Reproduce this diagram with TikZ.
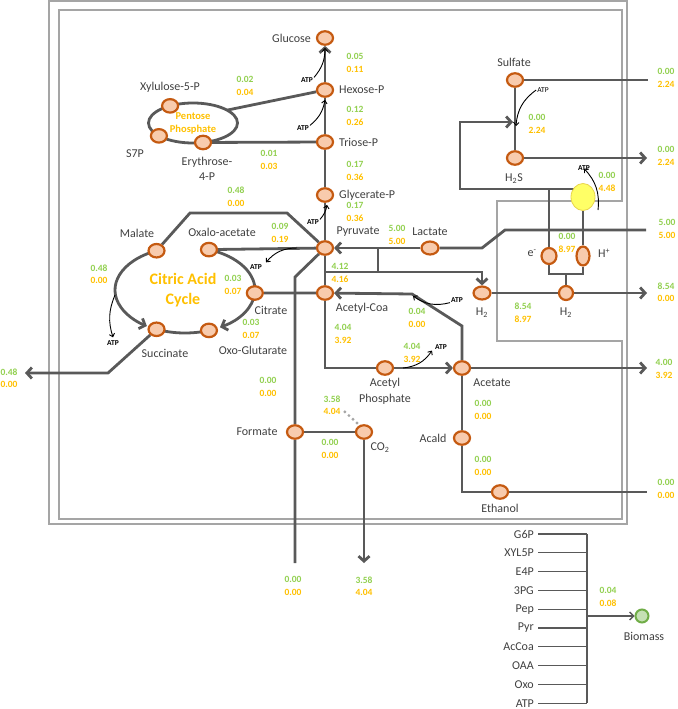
\documentclass[tikz,border=0pt]{standalone}
\usepackage{fontspec}
\setmainfont{Carlito}
\usepackage{xcolor}
\usepackage{tikz}
\usetikzlibrary{shapes.geometric, arrows.meta, positioning, calc, backgrounds}

\definecolor{flowgray}{HTML}{595959}
\definecolor{wallgray}{HTML}{A5A5A5}
\definecolor{metfill}{HTML}{F8CBAD}
\definecolor{metedge}{HTML}{C55A11}
\definecolor{fgreen}{HTML}{92D050}
\definecolor{forange}{HTML}{FFC000}
\definecolor{txtgray}{HTML}{404040}
\definecolor{hydfill}{HTML}{FFFF66}
\definecolor{hydedge}{HTML}{E8D44D}
\definecolor{biofill}{HTML}{C5E0B4}
\definecolor{bioedge}{HTML}{70AD47}
\definecolor{dotgray}{HTML}{A6A6A6}

\newcommand{\fx}[2]{\textcolor{fgreen}{#1}\\\textcolor{forange}{#2}}

\begin{document}
\begin{tikzpicture}[
  x=1pt, y=-1pt,
  met/.style = {ellipse, draw=metedge, fill=metfill, line width=2.2pt,
                minimum width=16pt, minimum height=13.5pt, inner sep=0pt},
  lbl/.style = {font=\fontsize{12}{14.5}\selectfont, text=txtgray, align=center, inner sep=0pt},
  num/.style = {font=\fontsize{9.5}{12.5}\selectfont\bfseries, align=center, inner sep=0pt},
  atp/.style = {font=\fontsize{7.5}{8}\selectfont\bfseries, inner sep=0pt},
  flow/.style = {draw=flowgray, line width=2.8pt},
  tip/.style = {-{Straight Barb[length=5pt,width=11pt]}},
  curl/.style = {draw=black, line width=0.9pt, -{Straight Barb[length=3pt,width=5.5pt]}},
  wall/.style = {draw=wallgray, line width=1.5pt},
  feed/.style = {draw=flowgray, line width=1.3pt}
]
  \useasboundingbox (0,0) rectangle (677,709);

  \coordinate (tca) at (185,290);
  \coordinate (ppc) at (193,123);

  \node[met] (glc)   at (325,38)  {};
  \node[met] (hexp)  at (325,90)  {};
  \node[met] (triop) at (325,142) {};
  \node[met] (glyp)  at (325,195) {};
  \node[met] (pyr)   at (325,248) {};
  \node[met] (accoa) at (325,293) {};
  \node[met] (xyl)   at ($(ppc)+(239:44.5 and 20)$) {};
  \node[met] (s7p)   at ($(ppc)+(140:44.5 and 20)$) {};
  \node[met] (e4p)   at ($(ppc)+(77:44.5 and 20)$)  {};
  \node[met] (mal)   at ($(tca)+(246:70 and 43)$) {};
  \node[met] (oaa)   at ($(tca)+(-70:70 and 43)$) {};
  \node[met] (cit)   at ($(tca)+(4:70 and 43)$)   {};
  \node[met] (oxo)   at ($(tca)+(70:70 and 43)$)  {};
  \node[met] (suc)   at ($(tca)+(114:70 and 43)$) {};
  \node[met, minimum width=17pt, minimum height=13pt] (lac) at (430,248) {};
  \node[met] (frm)   at (295,432) {};
  \node[met] (co2)   at (364,432) {};
  \node[met] (acp)   at (385,368) {};
  \node[met] (ace)   at (462,368) {};
  \node[met] (acald) at (462,438) {};
  \node[met] (etoh)  at (500,492) {};
  \node[met] (sulf)  at (515,80)  {};
  \node[met] (h2s)   at (515,158) {};
  \node[met, minimum width=17pt, minimum height=13pt] (h2a) at (482,293) {};
  \node[met, minimum width=14pt, minimum height=14pt] (h2b) at (566,293) {};
  \node[met, minimum width=15pt, minimum height=16pt] (em) at (549,256) {};
  \node[met, minimum width=13pt, minimum height=19pt] (hp) at (583,256) {};
  \node[ellipse, draw=hydedge, fill=hydfill, line width=0.8pt,
        minimum width=24pt, minimum height=27pt, inner sep=0pt] (hyd) at (583,197) {};
  \node[circle, draw=bioedge, fill=biofill, line width=2pt,
        minimum size=13pt, inner sep=0pt] (bio) at (642,616) {};

  \node[lbl, anchor=east] (glcT) at (311,38) {Glucose};
  \node[lbl, anchor=west] (hexpT) at (339,90) {Hexose-P};
  \node[lbl, anchor=west] (triopT) at (339,142) {Triose-P};
  \node[lbl, anchor=west] (glypT) at (339,195) {Glycerate-P};
  \node[lbl] (pyrT) at (358,232) {Pyruvate};
  \node[lbl] (accoaT) at (362,308) {Acetyl-Coa};
  \node[lbl] (xylT) at (170,87) {Xylulose-5-P};
  \node[lbl] (s7pT) at (135,154) {S7P};
  \node[lbl] (e4pT) at (207,169) {Erythrose-\\4-P};
  \node[font=\fontsize{10.5}{13}\selectfont\bfseries, text=forange, align=center] (ppT) at (ppc) {Pentose\\Phosphate};
  \node[lbl] (malT) at (137,233) {Malate};
  \node[lbl] (oaaT) at (222,232) {Oxalo-acetate};
  \node[lbl] (citT) at (271,310) {Citrate};
  \node[lbl] (sucT) at (165,353) {Succinate};
  \node[lbl] (oxoT) at (253,350) {Oxo-Glutarate};
  \node[font=\fontsize{16}{20}\selectfont\bfseries, text=forange, align=center] (tcaT) at (183,290) {Citric Acid\\Cycle};
  \node[lbl] (lacT) at (430,232) {Lactate};
  \node[lbl] (frmT) at (257,432) {Formate};
  \node[lbl] (co2T) at (380,448) {CO\textsubscript{2}};
  \node[lbl, font=\fontsize{12}{16}\selectfont] (acpT) at (385,391) {Acetyl\\Phosphate};
  \node[lbl] (aceT) at (492,383) {Acetate};
  \node[lbl] (acaldT) at (433,438) {Acald};
  \node[lbl] (etohT) at (500,508) {Ethanol};
  \node[lbl] (sulfT) at (514,62) {Sulfate};
  \node[lbl] (h2sT) at (514,179) {H\textsubscript{2}S};
  \node[lbl] (h2aT) at (482,313) {H\textsubscript{2}};
  \node[lbl] (h2bT) at (566,313) {H\textsubscript{2}};
  \node[lbl] (emT) at (532,253) {e\textsuperscript{-}};
  \node[lbl] (hpT) at (604,253) {H\textsuperscript{+}};
  \node[lbl] (bioT) at (644,636) {Biomass};

  \node[num] (f1)  at (245,86)  {\fx{0.02}{0.04}};
  \node[num] (f2)  at (355,63)  {\fx{0.05}{0.11}};
  \node[num] (f3)  at (355,116) {\fx{0.12}{0.26}};
  \node[num] (f4)  at (269,160) {\fx{0.01}{0.03}};
  \node[num] (f5)  at (355,171) {\fx{0.17}{0.36}};
  \node[num] (f6)  at (236,197) {\fx{0.48}{0.00}};
  \node[num] (f7)  at (355,212) {\fx{0.17}{0.36}};
  \node[num] (f8)  at (280,233) {\fx{0.09}{0.19}};
  \node[num] (f9)  at (397,235) {\fx{5.00}{5.00}};
  \node[num] (f10) at (340,273) {\fx{4.12}{4.16}};
  \node[num] (f11) at (233,285) {\fx{0.03}{0.07}};
  \node[num] (f12) at (251,329) {\fx{0.03}{0.07}};
  \node[num] (f13) at (99,274)  {\fx{0.48}{0.00}};
  \node[num] (f14) at (9,378)   {\fx{0.48}{0.00}};
  \node[num] (f15) at (268,387) {\fx{0.00}{0.00}};
  \node[num] (f16) at (332,405) {\fx{3.58}{4.04}};
  \node[num] (f17) at (330,449) {\fx{0.00}{0.00}};
  \node[num] (f18) at (293,586) {\fx{0.00}{0.00}};
  \node[num] (f19) at (364,586) {\fx{3.58}{4.04}};
  \node[num] (f20) at (343,334) {\fx{4.04}{3.92}};
  \node[num] (f21) at (417,318) {\fx{0.04}{0.00}};
  \node[num] (f22) at (412,353) {\fx{4.04}{3.92}};
  \node[num] (f23) at (483,410) {\fx{0.00}{0.00}};
  \node[num] (f24) at (483,466) {\fx{0.00}{0.00}};
  \node[num] (f25) at (666,489) {\fx{0.00}{0.00}};
  \node[num] (f26) at (664,369) {\fx{4.00}{3.92}};
  \node[num] (f27) at (666,292) {\fx{8.54}{0.00}};
  \node[num] (f28) at (523,313) {\fx{8.54}{8.97}};
  \node[num] (f29) at (567,243) {\fx{0.00}{8.97}};
  \node[num] (f30) at (667,229) {\fx{5.00}{5.00}};
  \node[num] (f31) at (607,182) {\fx{0.00}{4.48}};
  \node[num] (f32) at (666,156) {\fx{0.00}{2.24}};
  \node[num] (f33) at (537,124) {\fx{0.00}{2.24}};
  \node[num] (f34) at (666,78)  {\fx{0.00}{2.24}};
  \node[num] (f35) at (608,597) {\fx{0.04}{0.08}};

  \node[atp] (atp1) at (307,80)  {ATP};
  \node[atp] (atp2) at (303,128) {ATP};
  \node[atp] (atp3) at (313,222) {ATP};
  \node[atp] (atp4) at (256,267) {ATP};
  \node[atp] (atp5) at (113,343) {ATP};
  \node[atp] (atp6) at (457,300) {ATP};
  \node[atp] (atp7) at (441,347) {ATP};
  \node[atp, font=\fontsize{7.5}{8}\selectfont] (atp8) at (543,90) {ATP};
  \node[atp] (atp9) at (584,168) {ATP};

  \foreach \m [count=\i] in {G6P,XYL5P,E4P,3PG,Pep,Pyr,AcCoa,OAA,Oxo,ATP}
    \node[lbl, anchor=east] (bm\i) at (534,515.2+18.8*\i) {\m};

  \coordinate (ppout) at ($(ppc)+(-40:44.5 and 20)$);
  \coordinate (mk1) at (190,213);
  \coordinate (mk2) at (287,213);
  \coordinate (fk) at (295,277);
  \coordinate (frmout) at (295,563);
  \coordinate (co2out) at (364,563);
  \coordinate (sk) at (108,373);
  \coordinate (sucout) at (25,373);
  \coordinate (lacin) at (646,230);
  \coordinate (lk1) at (505,230);
  \coordinate (lk2) at (482,248);
  \coordinate (lj1) at (378,248);
  \coordinate (lj2) at (378,272);
  \coordinate (pj) at (325,272);
  \coordinate (hk) at (482,272);
  \coordinate (ak1) at (462,326);
  \coordinate (ak2) at (412,294);
  \coordinate (ck1) at (325,368);
  \coordinate (aceout) at (647,368);
  \coordinate (ek) at (462,492);
  \coordinate (etout) at (647,492);
  \coordinate (sulfout) at (648,80);
  \coordinate (h2sout) at (647,158);
  \coordinate (lp0) at (583,189);
  \coordinate (lp1) at (460,189);
  \coordinate (lp2) at (460,122);
  \coordinate (sjoin) at (513,122);
  \coordinate (ejoin) at (549,189);
  \coordinate (eb) at (549,274);
  \coordinate (hb) at (583,274);
  \coordinate (hm) at (566,274);
  \coordinate (h2out) at (647,293);
  \coordinate (dot1) at (357,423);
  \coordinate (dot2) at (344,411);
  \coordinate (bmtop) at (587,534);
  \coordinate (bmbot) at (587,703);
  \coordinate (bmj) at (587,616);

  \begin{scope}[on background layer]
    \draw[wall] (49,1) rectangle (627,524);
    \draw[wall] (59,10) -- (622,10) -- (622,201) -- (497,201) -- (497,341)
      -- (622,341) -- (622,519) -- (59,519) -- cycle;

    \draw[flow, tip] (hexp) -- (glc);
    \draw[flow] (triop) -- (hexp);
    \draw[flow] (glyp) -- (triop);
    \draw[flow] (pyr) -- (glyp);
    \draw[flow] (pyr) -- (accoa);
    \draw[flow] (ppc) ellipse[x radius=44.5, y radius=20];
    \draw[flow] (ppout) -- (hexp);
    \draw[flow] (e4p) -- (triop);

    \draw[flow, tip] ($(tca)+(246:70 and 43)$) arc[start angle=246, end angle=123, x radius=70, y radius=43];
    \draw[flow] ($(tca)+(114:70 and 43)$) arc[start angle=114, end angle=70, x radius=70, y radius=43];
    \draw[flow, tip] ($(tca)+(4:70 and 43)$) arc[start angle=4, end angle=60, x radius=70, y radius=43];
    \draw[flow] ($(tca)+(-70:70 and 43)$) arc[start angle=-70, end angle=4, x radius=70, y radius=43];
    \draw[flow] (mal) -- (mk1) -- (mk2) -- (pyr);
    \draw[flow] (oaa) -- (pyr);
    \draw[flow] (cit) -- (accoa);
    \draw[flow, tip] (suc) -- (sk) -- (sucout);

    \draw[flow] (pyr) -- (fk) -- (frm) -- (frmout);
    \draw[flow] (frm) -- (co2);
    \draw[flow, tip] (co2) -- (co2out);
    \draw[dotgray, line width=3.2pt, line cap=round, dash pattern=on 0pt off 5.5pt] (dot1) -- (dot2);

    \draw[flow] (lacin) -- (lk1) -- (lk2) -- (lac);
    \draw[flow, tip] (lac) -- (pyr);
    \draw[flow] (lj1) -- (lj2);
    \draw[flow, tip] (pj) -- (hk) -- (h2a);

    \draw[flow, tip] (ace) -- (ak1) -- (ak2) -- (accoa);
    \draw[flow] (accoa) -- (ck1) -- (acp);
    \draw[flow, tip] (acp) -- (ace);
    \draw[flow, tip] (ace) -- (aceout);
    \draw[flow] (ace) -- (acald) -- (ek) -- (etoh) -- (etout);

    \draw[flow] (sulf) -- (sulfout);
    \draw[flow] (sulf) -- (h2s);
    \draw[flow, tip] (h2s) -- (h2sout);
    \draw[flow, tip] (lp0) -- (lp1) -- (lp2) -- (sjoin);
    \draw[flow] (ejoin) -- (em);
    \draw[flow] (hyd) -- (hp);
    \draw[flow] (em) -- (eb) -- (hb) -- (hp);
    \draw[flow] (hm) -- (h2b);
    \draw[flow] (h2a) -- (h2b);
    \draw[flow, tip] (h2b) -- (h2out);

    \foreach \i in {1,...,10}
      \draw[feed] ([xshift=4pt]bm\i.east) -- (bm\i.east -| bmtop);
    \draw[feed] (bmtop) -- (bmbot);
  \end{scope}
  \draw[feed, -{Straight Barb[length=4pt,width=8pt]}] (bmj) -- (bio);

  \draw[curl] ([xshift=1pt]atp1.north east) to[bend right=20] ([yshift=-2pt]glc.south);
  \draw[curl] ([xshift=1pt]atp2.north east) to[bend right=20] ([yshift=-2pt]hexp.south);
  \draw[curl] ([xshift=1pt]atp3.north east) to[bend right=15] ([shift={(2pt,-2pt)}]glyp.south);
  \draw[curl] (297,248) to[bend right=25] ([shift={(4pt,2pt)}]atp4.north east);
  \draw[curl] (115,295) to[bend right=20] ([yshift=3pt]atp5.north);
  \draw[curl] ([xshift=-1pt]atp6.south west) to[bend left=25] (413,296);
  \draw[curl] (403,368) to[bend right=25] ([shift={(-3pt,-1pt)}]atp7.south west);
  \draw[curl] ([xshift=-1pt]atp8.west) to[bend right=25] (516,126);
  \draw[curl] (598,210) to[bend right=25] ([yshift=2pt]atp9.south);
\end{tikzpicture}
\end{document}
